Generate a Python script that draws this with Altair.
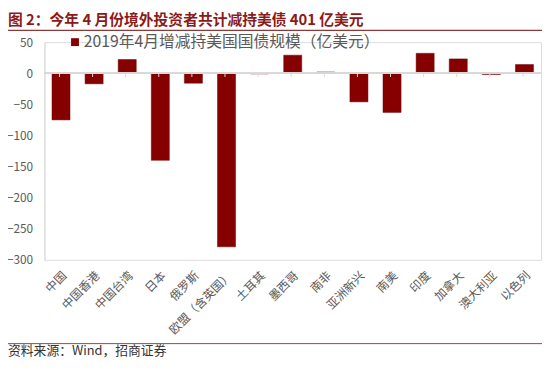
import altair as alt
import pandas as pd

categories = ["中国", "中国香港", "中国台湾", "日本", "俄罗斯", "欧盟（含英国）", "土耳其",
              "墨西哥", "南非", "亚洲新兴", "南美", "印度", "加拿大", "澳大利亚", "以色列"]
values = [-75, -17, 22, -140, -16, -279, -1, 29, 2, -46, -63, 32, 23, -2, 14]
y_ticks = [50, 0, -50, -100, -150, -200, -250, -300]

title_text = "图 2：今年 4 月份境外投资者共计减持美债 401 亿美元"
legend_text = "2019年4月增减持美国国债规模（亿美元）"
source_text = "资料来源：Wind，招商证券"

FONT = "Noto Sans CJK SC"
BAR = "#860000"
GRAY = "#595959"

df = pd.DataFrame({"cat": categories, "val": values})

xscale = alt.Scale(domain=categories, paddingInner=0.455, paddingOuter=0.2275)
yscale = alt.Scale(domain=[-300, 50], nice=False, zero=False)

x_axis = alt.Axis(title=None, labelAngle=-45, domain=False, ticks=False,
                  labelFont=FONT, labelFontSize=12, labelColor=GRAY,
                  labelPadding=10, labelLimit=200)
y_axis = alt.Axis(title=None, values=y_ticks, grid=False, ticks=False,
                  labelOverlap=False, domainColor="#d9d9d9", labelFont=FONT,
                  labelFontSize=12, labelColor=GRAY, labelPadding=12)

base = alt.Chart(df)

bars = base.mark_bar(color=BAR, stroke="#6a0000", strokeWidth=0.5).encode(
    x=alt.X("cat:N", scale=xscale, sort=categories, axis=x_axis),
    y=alt.Y("val:Q", scale=yscale, axis=y_axis),
)

zero_line = base.mark_rule(color="#d9d9d9", strokeWidth=1).encode(
    x=alt.value(0), x2=alt.value(504), y=alt.Y(datum=0, type="quantitative", scale=yscale, axis=y_axis)
)

bound_ticks = base.mark_rule(color="#d9d9d9", strokeWidth=1).encode(
    x=alt.X("cat:N", scale=xscale, sort=categories, bandPosition=1, axis=x_axis),
    xOffset=alt.value(7.6),
    y=alt.Y(datum=0, type="quantitative", scale=yscale, axis=y_axis),
    y2=alt.Y2(datum=-6),
)

txt = pd.DataFrame({"t": [title_text]})
title = alt.Chart(txt).mark_text(font=FONT, fontSize=15, fontWeight="bold", color="#8b1a1a",
                                 align="left", baseline="middle").encode(
    text="t:N", x=alt.value(-37), y=alt.value(-22))
title_rule = alt.Chart(txt).mark_rule(color="#8b3a3a", strokeWidth=1.2).encode(
    x=alt.value(-37), x2=alt.value(505), y=alt.value(-12))

leg = pd.DataFrame({"t": [legend_text]})
leg_sq = alt.Chart(leg).mark_square(color=BAR, size=64, opacity=1).encode(
    x=alt.value(31), y=alt.value(0))
leg_txt = alt.Chart(leg).mark_text(font=FONT, fontSize=16, color=GRAY, align="left",
                                   baseline="middle").encode(
    text="t:N", x=alt.value(40), y=alt.value(0))

src = pd.DataFrame({"t": [source_text]})
src_rule = alt.Chart(src).mark_rule(color="#a04040", strokeWidth=1).encode(
    x=alt.value(-37), x2=alt.value(505), y=alt.value(306))
src_txt = alt.Chart(src).mark_text(font=FONT, fontSize=13, color="#333333", align="left",
                                   baseline="middle").encode(
    text="t:N", x=alt.value(-37), y=alt.value(314))

chart = alt.layer(bars, zero_line, bound_ticks, title, title_rule, leg_sq, leg_txt,
                  src_rule, src_txt).properties(
    width=504, height=221,
    autosize=alt.AutoSizeParams(type="none"),
    padding={"left": 37, "top": 32, "right": 1, "bottom": 101},
).configure_view(stroke=None).configure(background="white")

chart.save("out.html", embed_options={"renderer": "svg", "actions": False})
